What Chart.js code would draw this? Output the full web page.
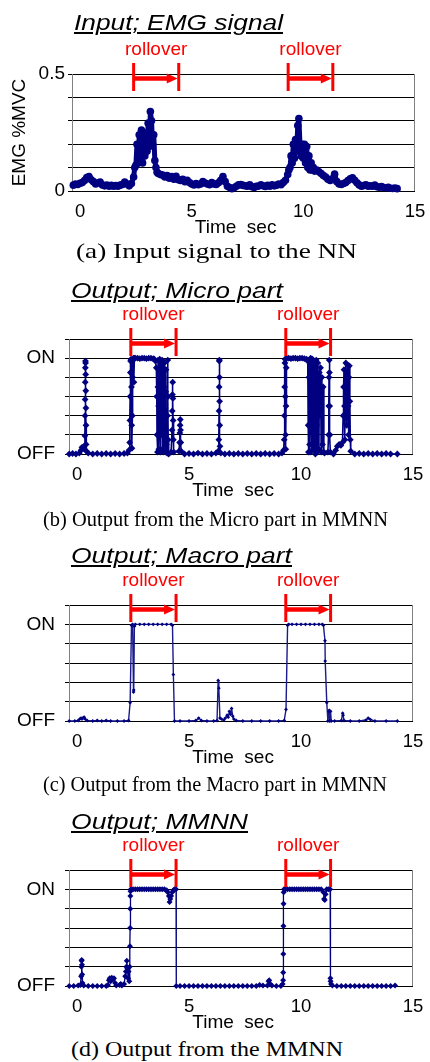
<!DOCTYPE html>
<html><head><meta charset="utf-8">
<script src="https://cdn.jsdelivr.net/npm/chart.js@4.4.0/dist/chart.umd.min.js"></script>
<style>
html,body{margin:0;padding:0;background:#fff;width:430px;height:1062px;overflow:hidden;position:relative}
canvas{position:absolute;left:0}
.ttl{position:absolute;font:italic 22px/22px "Liberation Sans",Arial,sans-serif;color:#000;white-space:nowrap;text-decoration:underline;text-decoration-thickness:2px;text-underline-offset:2px;transform-origin:0 0}
.cap{position:absolute;font:21px/21px "Liberation Serif","Times New Roman",serif;color:#000;white-space:nowrap;transform-origin:0 0}
</style></head><body>
<canvas id="c0"></canvas><canvas id="c1"></canvas><canvas id="c2"></canvas><canvas id="c3"></canvas>
<script>
// ---------- texts ----------
const panelTitles = ['Input; EMG signal', 'Output; Micro part', 'Output; Macro part', 'Output; MMNN'];
const panelCaptions = ['(a) Input signal to the NN', '(b) Output from the Micro part in MMNN', '(c) Output from the Macro part in MMNN', '(d) Output from the MMNN'];
const xAxisTitle = 'Time  sec';
const emgAxisTitle = 'EMG %MVC';
const rolloverLabel = 'rollover';

// ---------- axes ----------
const xTickValues = [0, 5, 10, 15];
const emgYTickValues = [0, 0.1, 0.2, 0.3, 0.4, 0.5];
const emgYTickLabels = ['0', '', '', '', '', '0.5'];
const onOffTickValues = [0, 0.2, 0.4, 0.6, 0.8, 1.0, 1.2];
const onOffTickLabels = ['OFF', '', '', '', '', 'ON', ''];

// rollover intervals (sec)
const rolloverStart = [2.4, 9.32];
const rolloverEnd = [4.42, 11.32];

// ---------- (a) EMG signal ----------
const emgTime = [
 -0.3,-0.2,-0.1,0.0,0.1,0.2,0.3,0.4,0.5,0.6,0.7,0.8,0.9,1.0,1.1,1.2,1.3,1.4,1.5,1.6,1.7,1.8,1.9,2.0,2.1,2.2,2.3,
 2.4,2.45,2.5,2.55,2.6,2.65,2.7,2.75,2.8,2.85,2.9,2.95,3.0,3.05,3.1,3.15,3.2,3.25,3.3,3.35,3.4,3.45,3.5,
 3.6,3.7,3.8,3.9,4.0,4.1,4.2,4.3,4.4,4.5,4.6,4.7,4.8,4.9,5.0,5.1,5.2,5.3,5.4,5.5,5.6,5.7,5.8,5.9,6.0,6.1,6.2,6.3,6.4,6.5,6.6,6.7,6.8,6.9,7.0,7.1,7.2,7.3,7.4,7.5,7.6,7.7,7.8,7.9,8.0,8.1,8.2,8.3,8.4,8.5,8.6,8.7,8.8,8.9,9.0,9.1,9.2,
 9.3,9.35,9.4,9.45,9.5,9.55,9.6,9.65,9.7,9.75,9.8,9.85,9.9,9.95,10.0,10.05,10.1,10.15,10.2,10.25,10.3,10.35,10.4,10.45,10.5,
 10.6,10.7,10.8,10.9,11.0,11.1,11.2,11.3,11.4,11.5,11.6,11.7,11.8,11.9,12.0,12.1,12.2,12.3,12.4,12.5,12.6,12.7,12.8,12.9,13.0,13.1,13.2,13.3,13.4,13.5,13.6,13.7,13.8,13.9,14.0,14.1,14.2
];
const emgValue = [
 .025,.03,.028,.033,.036,.045,.058,.062,.048,.04,.03,.034,.038,.026,.022,.025,.02,.024,.02,.023,.02,.025,.028,.038,.03,.022,.032,
 .06,.1,.11,.2,.12,.24,.13,.26,.12,.25,.15,.22,.17,.29,.19,.34,.3,.2,.24,.13,.1,.08,.075,
 .07,.068,.06,.066,.055,.062,.05,.063,.048,.045,.05,.04,.046,.036,.03,.026,.032,.027,.03,.04,.034,.03,.027,.036,.03,.028,.035,.046,.062,.04,.02,.015,.01,.014,.02,.026,.028,.024,.022,.02,.026,.018,.015,.02,.021,.026,.022,.019,.024,.02,.026,.022,.025,.03,.027,.036,.046,
 .07,.09,.1,.15,.12,.2,.14,.22,.17,.28,.31,.2,.15,.2,.14,.2,.12,.19,.1,.15,.09,.12,.09,.1,.085,
 .09,.082,.075,.066,.06,.05,.045,.052,.072,.04,.03,.028,.032,.036,.045,.052,.056,.046,.035,.026,.02,.023,.026,.02,.022,.02,.025,.018,.016,.019,.015,.014,.016,.012,.011,.013,.01
];

// ---------- (b) Micro part ----------
const microTime = [
 -0.35,-0.2,-0.05,0.1,0.18,0.22,0.26,0.3,0.33,0.35,0.355,0.36,0.365,0.37,0.375,0.38,0.385,0.39,0.395,0.4,0.405,0.42,0.5,
 0.7,0.9,1.1,1.3,1.5,1.7,1.9,2.1,2.25,2.32,
 2.35,2.36,2.37,2.38,2.39,2.41,2.43,2.44,2.45,2.47,2.48,2.5,2.52,2.54,2.56,
 2.6,2.7,2.8,2.9,3.0,3.1,3.2,3.3,3.4,3.45,3.5,
 3.54,3.56,3.57,3.59,3.61,3.62,3.64,3.65,3.67,3.69,3.71,3.72,3.74,3.75,3.77,3.79,3.8,3.82,3.84,3.85,3.87,3.89,3.9,3.92,3.94,3.96,3.97,3.99,4.02,
 4.04,4.05,4.06,4.07,4.09,4.2,4.24,4.25,4.26,4.27,4.28,4.29,4.3,4.32,4.55,4.58,4.59,4.6,4.61,4.62,4.63,4.65,
 4.8,5.0,5.2,5.4,5.6,5.8,6.0,6.2,6.3,6.33,6.34,6.345,6.35,6.355,6.36,6.365,6.37,6.38,6.42,
 6.6,6.8,7.0,7.2,7.4,7.6,7.8,8.0,8.2,8.4,8.6,8.8,9.0,9.15,9.22,
 9.25,9.26,9.27,9.28,9.29,9.3,9.31,9.32,9.33,9.34,9.36,
 9.45,9.55,9.65,9.75,9.85,9.95,10.05,10.15,10.25,
 10.3,10.32,10.33,10.35,10.36,10.38,10.4,10.42,10.43,10.45,10.47,10.49,10.51,10.53,10.55,10.57,10.6,10.62,10.64,10.66,10.68,10.7,10.72,10.75,10.77,10.8,10.82,10.84,10.87,10.9,10.93,10.96,10.99,11.02,11.05,
 11.2,11.23,11.24,11.25,11.26,11.27,11.28,11.29,11.31,11.45,11.55,11.62,11.7,11.78,11.85,11.88,11.9,11.92,11.94,11.96,11.98,12.0,12.02,12.04,12.06,12.08,12.1,12.12,12.14,12.16,12.18,12.2,12.22,
 12.4,12.6,12.8,13.0,13.2,13.4,13.6,13.8,14.0,14.3
];
const microValue = [
 0,0.005,0,0.01,0.04,0.07,0.06,0.08,0.05,0.19,0.4,0.57,0.75,0.9,0.97,0.95,0.83,0.66,0.48,0.3,0.1,0.03,0.01,
 0,0.005,0,0.005,0,0.005,0,0.005,0.01,0.04,
 0.12,0.35,0.6,0.85,0.97,0.99,0.7,0.3,0.06,0.4,0.8,0.98,1.0,0.75,1.0,
 1,1,0.995,1,1,0.995,1,1,0.995,0.99,0.97,
 0.9,0.6,0.2,0.02,0.7,0.98,0.5,0.05,0.85,0.99,0.3,0.02,0.6,0.95,0.2,0.8,0.98,0.05,0.5,0.9,0.02,0.7,0.95,0.35,0.02,0.65,0.88,0.1,0.01,
 0.4,0.98,0.6,0.15,0,0.02,0.25,0.45,0.62,0.75,0.58,0.35,0.15,0.02,0.03,0.12,0.22,0.3,0.36,0.25,0.12,0.03,
 0,0.005,0,0.01,0,0.005,0,0.01,0.03,0.15,0.45,0.7,0.97,0.98,0.8,0.55,0.3,0.08,0.01,
 0,0.005,0,0.005,0,0.005,0,0.005,0,0.005,0,0.005,0,0.01,0.04,
 0.15,0.4,0.7,0.95,0.99,0.6,0.2,0.05,0.5,0.9,1.0,
 1,0.995,1,1,0.995,1,1,0.995,0.99,
 0.97,0.3,0.02,0.8,0.98,0.1,0.02,0.95,1.0,0.5,0.03,0.85,0.99,0.4,0.05,0.9,0.97,0.2,0,0.75,0.98,0.3,0.02,0.95,0.6,0.05,0.85,0.4,0.9,0.02,0.8,0.1,0.7,0.02,0.01,
 0.02,0.2,0.5,0.8,0.98,0.85,0.5,0.2,0.02,0,0.04,0.08,0.1,0.09,0.12,0.4,0.7,0.88,0.5,0.15,0.6,0.95,0.7,0.3,0.85,0.93,0.5,0.2,0.8,0.92,0.55,0.15,0.03,
 0,0.005,0,0.005,0,0.005,0,0.005,0,0
];

// ---------- (c) Macro part ----------
const macroTime = [
 -0.35,-0.1,0.05,0.12,0.18,0.22,0.28,0.32,0.36,0.45,0.7,0.9,1.1,1.3,1.5,1.8,2.1,2.3,
 2.37,2.43,2.48,2.52,2.53,2.56,2.6,2.8,3.0,3.2,3.4,3.6,3.8,4.0,4.2,4.26,4.3,4.35,
 4.6,5.0,5.3,5.43,5.55,5.8,6.1,6.25,6.3,6.33,6.38,6.45,6.55,6.62,6.7,6.75,6.8,6.85,6.9,6.95,7.0,7.1,
 7.4,7.8,8.2,8.6,9.0,9.25,9.33,9.4,9.45,9.6,9.8,10.0,10.2,10.4,10.6,10.8,10.95,11.0,11.07,11.08,11.15,11.2,
 11.24,11.26,11.28,11.32,11.35,11.5,11.8,11.86,11.88,11.92,12.2,12.6,12.9,13.0,13.1,13.3,13.8,14.3
];
const macroValue = [
 0,0,0.005,0.02,0.03,0.02,0.035,0.04,0.02,0.005,0,0.005,0,0.005,0,0,0,0.005,
 0.19,0.99,1.0,0.3,0.32,0.98,1,1,1,1,1,1,1,1,1,0.99,0.48,0,
 0,0,0.005,0.03,0.005,0,0,0.005,0.42,0.34,0.03,0.02,0.01,0.03,0.06,0.04,0.1,0.07,0.13,0.05,0.02,0.005,
 0,0,0,0,0,0.005,0.12,0.99,1,1,1,1,1,1,1,1,1,0.99,0.83,0.62,0.19,0,
 0.1,0.11,0,0.1,0,0,0.005,0.08,0.06,0.005,0,0,0.01,0.03,0.015,0,0,0
];

// ---------- (d) MMNN ----------
const mmnnTime = [
 -0.35,-0.15,0.05,0.15,0.18,0.19,0.2,0.21,0.22,0.23,0.24,0.3,0.5,0.7,0.9,1.1,1.3,
 1.38,1.42,1.46,1.5,1.55,1.6,1.65,1.7,1.75,1.9,1.95,2.0,2.1,2.15,2.18,2.2,2.22,2.25,2.28,2.3,2.33,
 2.35,2.36,2.37,2.375,2.38,2.385,2.4,2.5,2.6,2.7,2.8,2.9,3.0,3.1,3.2,3.3,3.4,3.5,3.6,3.7,3.8,3.9,4.0,
 4.05,4.1,4.13,4.16,4.2,4.25,4.3,4.35,4.42,4.43,4.6,4.8,5.0,5.2,5.4,5.6,5.8,6.0,6.2,6.4,6.6,6.8,7.0,7.2,7.4,7.6,7.8,8.0,8.15,8.3,
 8.5,8.55,8.58,8.62,8.7,8.9,9.1,9.18,9.2,9.205,9.21,9.215,9.22,9.225,9.24,9.3,9.4,9.5,9.6,9.7,9.8,9.9,10.0,10.1,10.2,10.3,10.4,10.5,10.6,10.7,10.8,10.9,
 11.0,11.03,11.06,11.1,11.15,11.22,11.3,11.31,11.32,11.34,11.4,11.6,11.8,12.0,12.2,12.4,12.6,12.8,13.0,13.2,13.4,13.6,13.8,14.0,14.2
];
const mmnnValue = [
 0,0,0.005,0.01,0.1,0.2,0.26,0.27,0.22,0.12,0.03,0.005,0,0,0,0,0,
 0.01,0.06,0.08,0.05,0.085,0.07,0.08,0.03,0.005,0.01,0.02,0.005,0.02,0.1,0.15,0.2,0.26,0.18,0.08,0.15,0.05,
 0.2,0.41,0.6,0.8,0.93,0.98,1,1,1,1,1,1,1,1,1,1,1,1,1,1,1,1,0.99,
 0.97,0.93,0.87,0.9,0.93,0.97,0.99,1,1,0,0,0,0,0,0,0,0,0,0,0,0,0,0,0,0,0,0,0,0.01,0.005,
 0.005,0.05,0.06,0.02,0.005,0,0,0.02,0.06,0.14,0.33,0.62,0.85,0.97,1,1,1,1,1,1,1,1,1,1,1,1,1,1,1,1,1,1,
 0.97,0.9,0.89,0.95,1,1,1,0.08,0.05,0.02,0.005,0,0,0,0,0,0,0,0,0,0,0,0,0,0.005
];

// ---------- drawing ----------
const NAVY = '#000080';
const FONT = '"Liberation Sans", Arial, sans-serif';
const X_MIN = -0.36, X_MAX = 15;

const framePlugin = {
  id: 'frame',
  beforeDatasetsDraw(chart) {
    const {ctx, chartArea: a} = chart;
    ctx.save();
    ctx.strokeStyle = '#808080'; ctx.lineWidth = 1;
    ctx.beginPath();
    ctx.moveTo(Math.round(a.left) + 0.5, a.top); ctx.lineTo(Math.round(a.left) + 0.5, a.bottom);
    ctx.moveTo(Math.round(a.right) - 0.5, a.top); ctx.lineTo(Math.round(a.right) - 0.5, a.bottom);
    ctx.stroke();
    ctx.restore();
  }
};

const rolloverPlugin = {
  id: 'rollover',
  afterDraw(chart) {
    const {ctx, chartArea: {top}, scales: {x}} = chart;
    ctx.save();
    ctx.strokeStyle = '#ff0000'; ctx.fillStyle = '#ff0000';
    rolloverStart.forEach((s, i) => {
      const x1 = x.getPixelForValue(s), x2 = x.getPixelForValue(rolloverEnd[i]);
      const ay = top + 4.5;
      ctx.lineWidth = 3;
      ctx.beginPath();
      ctx.moveTo(x1, top - 11); ctx.lineTo(x1, top + 17);
      ctx.moveTo(x2, top - 11); ctx.lineTo(x2, top + 17);
      ctx.stroke();
      ctx.lineWidth = 4.5;
      ctx.beginPath(); ctx.moveTo(x1, ay); ctx.lineTo(x2 - 9, ay); ctx.stroke();
      ctx.beginPath(); ctx.moveTo(x2 - 1, ay); ctx.lineTo(x2 - 12, ay - 5); ctx.lineTo(x2 - 12, ay + 5); ctx.closePath(); ctx.fill();
      ctx.font = '19px ' + FONT; ctx.textAlign = 'center'; ctx.textBaseline = 'middle';
      ctx.fillText(rolloverLabel, (x1 + x2) / 2, top - 24);
    });
    ctx.restore();
  }
};

function makeChart(id, cfg) {
  const cv = document.getElementById(id);
  cv.style.top = cfg.canvasTop + 'px';
  cv.width = 430; cv.height = cfg.canvasH;
  cv.style.width = '430px'; cv.style.height = cfg.canvasH + 'px';
  const pts = cfg.t.map((t, i) => ({x: t, y: cfg.v[i]}));
  return new Chart(cv, {
    type: 'line',
    data: {datasets: [{
      data: pts, borderColor: cfg.color || NAVY, backgroundColor: NAVY,
      borderWidth: cfg.bw, borderJoinStyle: 'round', borderCapStyle: 'round',
      pointRadius: cfg.pr, pointStyle: cfg.ps,
      pointBackgroundColor: NAVY, pointBorderColor: NAVY, pointBorderWidth: 0,
      tension: 0, clip: false
    }]},
    options: {
      responsive: false, animation: false,
      layout: {padding: {top: 40, left: 0, right: cfg.padR, bottom: 0}},
      plugins: {legend: {display: false}, tooltip: {enabled: false}},
      scales: {
        x: {
          type: 'linear', min: X_MIN, max: X_MAX,
          afterBuildTicks: s => { s.ticks = xTickValues.map(v => ({value: v})); },
          afterFit: s => { s.height = 48; },
          grid: {display: false}, border: {display: false},
          ticks: {font: {family: FONT, size: 18.5}, color: '#000', padding: 2, maxRotation: 0, autoSkip: false},
          title: {display: true, text: xAxisTitle + '   ', font: {family: FONT, size: 19}, color: '#000', padding: {top: 0, bottom: 0}}
        },
        y: {
          type: 'linear', min: cfg.yTicks[0], max: cfg.yTicks[cfg.yTicks.length - 1],
          afterBuildTicks: s => { s.ticks = cfg.yTicks.map(v => ({value: v})); },
          afterFit: s => { s.width = cfg.yw; },
          grid: {color: '#000', lineWidth: 1, tickLength: 4, drawTicks: true},
          border: {display: false},
          ticks: {callback: (v, i) => cfg.yLabels[i], font: {family: FONT, size: 19}, color: '#000', padding: cfg.ypad, autoSkip: false},
          title: cfg.yTitle ? {display: true, text: cfg.yTitle, font: {family: FONT, size: 19}, color: '#000', padding: {top: 8, bottom: 0}} : {display: false}
        }
      }
    },
    plugins: [framePlugin, rolloverPlugin]
  });
}

makeChart('c0', {canvasTop: 34, canvasH: 205, yw: 72, padR: 15, t: emgTime, v: emgValue, bw: 5, pr: 3.8, ps: 'circle',
  yTicks: emgYTickValues, yLabels: emgYTickLabels, ypad: 3, yTitle: emgAxisTitle});
makeChart('c1', {canvasTop: 299, canvasH: 203, yw: 69, padR: 17, t: microTime, v: microValue, bw: 1.6, pr: 3.4, ps: 'rectRot',
  yTicks: onOffTickValues, yLabels: onOffTickLabels, ypad: 10});
makeChart('c2', {canvasTop: 565, canvasH: 204, yw: 69, padR: 17, t: macroTime, v: macroValue, bw: 1.4, pr: 1.9, ps: 'rectRot', color: '#1a1a8c',
  yTicks: onOffTickValues, yLabels: onOffTickLabels, ypad: 10});
makeChart('c3', {canvasTop: 830, canvasH: 204, yw: 69, padR: 17, t: mmnnTime, v: mmnnValue, bw: 1.3, pr: 3, ps: 'rectRot',
  yTicks: onOffTickValues, yLabels: onOffTickLabels, ypad: 10});

// ---------- HTML titles & captions ----------
function placeText(text, cls, left, top, targetW) {
  const d = document.createElement('div');
  d.className = cls; d.textContent = text;
  d.style.left = left + 'px'; d.style.top = top + 'px';
  document.body.appendChild(d);
  const w = d.getBoundingClientRect().width;
  if (w > 0) d.style.transform = 'scaleX(' + (targetW / w) + ')';
}
const titleBoxes = [[74, 12, 209], [71, 279.5, 212], [71, 544.5, 221], [71, 810.5, 177]];
const captionBoxes = [[76, 240.5, 281], [43, 508.5, 345], [43, 773.5, 344], [71, 1038.5, 272]];
panelTitles.forEach((s, i) => placeText(s, 'ttl', ...titleBoxes[i]));
panelCaptions.forEach((s, i) => placeText(s, 'cap', ...captionBoxes[i]));
</script>
</body></html>
